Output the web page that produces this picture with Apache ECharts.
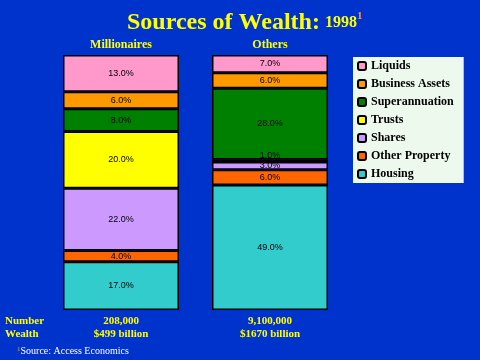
<!DOCTYPE html>
<html>
<head>
<meta charset="utf-8">
<script src="https://cdn.jsdelivr.net/npm/echarts@6/dist/echarts.min.js"></script>
<style>
html,body{margin:0;padding:0;background:#0033CC;}
#main{width:480px;height:360px;}
</style>
</head>
<body>
<div id="main"></div>
<script>
// Data
const groups = ['Millionaires', 'Others'];
const numbers = ['208,000', '9,100,000'];
const wealth = ['$499 billion', '$1670 billion'];
// stack order bottom -> top
const sourceNames = ['Housing', 'Other Property', 'Shares', 'Trusts', 'Superannuation', 'Business Assets', 'Liquids'];
const millionairesPct = [17, 4, 22, 20, 8, 6, 13];
const othersPct = [49, 6, 3, 1, 28, 6, 7];
const legendOrder = ['Liquids', 'Business Assets', 'Superannuation', 'Trusts', 'Shares', 'Other Property', 'Housing'];
const colors = {
  'Liquids': '#FF99CC',
  'Business Assets': '#FF9900',
  'Superannuation': '#008000',
  'Trusts': '#FFFF00',
  'Shares': '#CC99FF',
  'Other Property': '#FF6600',
  'Housing': '#33CCCC'
};

const sumM = millionairesPct.reduce((a, b) => a + b, 0);
const sumO = othersPct.reduce((a, b) => a + b, 0);

function item(v, sum) {
  const d = { value: v / sum * 100, raw: v };
  if (v < 2) d.label = { position: 'top', distance: 0 };
  return d;
}

const series = sourceNames.map((name, i) => ({
  name: name,
  type: 'bar',
  stack: 'total',
  barWidth: 116,
  data: [item(millionairesPct[i], sumM), item(othersPct[i], sumO)],
  itemStyle: { color: colors[name], borderColor: '#000', borderWidth: 1.5 },
  label: {
    show: true,
    position: 'inside',
    color: '#000',
    fontFamily: 'Liberation Sans',
    fontSize: 9,
    formatter: p => p.data.raw.toFixed(1) + '%'
  },
  emphasis: { disabled: true }
}));

const chart = echarts.init(document.getElementById('main'), null, { renderer: 'canvas' });
chart.setOption({
  backgroundColor: '#0033CC',
  animation: false,
  title: {
    left: 122,
    top: 6,
    text: '{a|Sources of Wealth:} {b|1998}{c|1}',
    textStyle: {
      rich: {
        a: { fontFamily: 'Liberation Serif', fontWeight: 'bold', fontSize: 24, color: '#FFFF00',
             textShadowColor: '#000', textShadowOffsetX: 2, textShadowOffsetY: 2, textShadowBlur: 0 },
        b: { fontFamily: 'Liberation Serif', fontWeight: 'bold', fontSize: 16, color: '#FFFF00',
             textShadowColor: '#000', textShadowOffsetX: 1, textShadowOffsetY: 1, textShadowBlur: 0 },
        c: { fontFamily: 'Liberation Serif', fontWeight: 'bold', fontSize: 11, color: '#FF9933',
             verticalAlign: 'top', padding: [0, 0, 12, 0] }
      }
    }
  },
  legend: {
    orient: 'vertical',
    left: 353,
    top: 57,
    width: 115,
    padding: [3, 10, 3, 4],
    backgroundColor: '#EEF9EE',
    itemWidth: 8,
    itemHeight: 8,
    itemGap: 6,
    data: legendOrder,
    selectedMode: false,
    textStyle: { fontFamily: 'Liberation Serif', fontWeight: 'bold', fontSize: 12, color: '#000', lineHeight: 12 }
  },
  grid: { left: 46.5, right: 480 - 344.5, top: 55, bottom: 50 },
  xAxis: [
    {
      type: 'category',
      data: groups,
      position: 'top',
      axisLine: { show: false },
      axisTick: { show: false },
      axisLabel: { color: '#FFFF00', fontFamily: 'Liberation Serif', fontWeight: 'bold', fontSize: 12, margin: 4 }
    },
    {
      type: 'category',
      data: groups,
      position: 'bottom',
      axisLine: { show: false },
      axisTick: { show: false },
      axisLabel: {
        color: '#FFFF00', fontFamily: 'Liberation Serif', fontWeight: 'bold', fontSize: 11, lineHeight: 13, margin: 5,
        formatter: (v, i) => numbers[i] + '\n' + wealth[i]
      }
    }
  ],
  yAxis: { type: 'value', min: 0, max: 100, show: false },
  series: series,
  graphic: [
    { type: 'text', left: 5, top: 315, style: { text: 'Number\nWealth', fill: '#FFFF00', font: 'bold 11px "Liberation Serif"', lineHeight: 13 } },
    { type: 'text', left: 17, top: 346, style: { text: '{o|1}{t|Source: Access Economics}',
        rich: { o: { fill: '#FF9933', fontSize: 7, fontFamily: 'Liberation Serif', verticalAlign: 'top' },
                t: { fill: '#FFFFFF', fontSize: 10, fontFamily: 'Liberation Serif' } } } }
  ]
});
</script>
</body>
</html>
